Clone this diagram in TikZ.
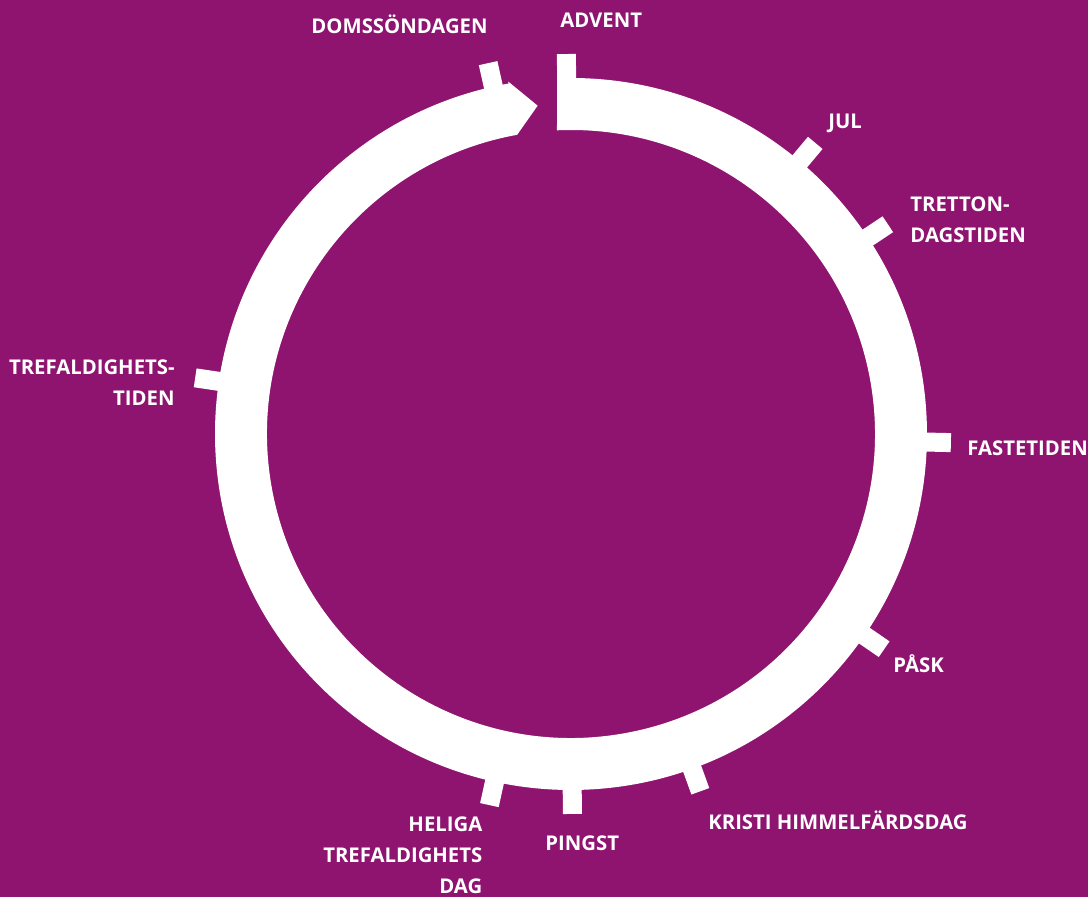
\documentclass[tikz,border=0pt]{standalone}
\usepackage{fontspec}
\setmainfont{Open Sans}
\definecolor{kyrkolila}{RGB}{142,20,112}
\tikzset{
  tick/.style={fill=white, rectangle, inner sep=0pt, minimum width=15pt, minimum height=9.5pt},
  season/.style={text=white, inner sep=0pt, font=\fontsize{10.15}{15.5}\selectfont\bfseries}
}
\begin{document}
\begin{tikzpicture}[x=0.5pt, y=0.5pt]
  % Background
  \fill[kyrkolila] (-571,-463) rectangle (517,434);
  \useasboundingbox (-571,-463) rectangle (517,434);

  % Ring with arrow head
  \fill[white] (92.25:356) arc[start angle=92.25, end angle=-259.9, radius=356]
    -- (100.1:358) -- (95.8:330) -- (100.2:304)
    arc[start angle=-259.8, end angle=92.64, radius=304] -- cycle;

  % Ticks
  \node[tick, rotate=90.7] (advent tick) at (90.7:365) {};
  \node[tick, rotate=50] (jul tick) at (50:365) {};
  \node[tick, rotate=33.5] (tretton tick) at (33.5:365) {};
  \node[tick, rotate=-1.3] (faste tick) at (-1.3:365) {};
  \node[tick, rotate=-34.5] (pask tick) at (-34.5:365) {};
  \node[tick, rotate=-70.1] (kristi tick) at (-70.1:365) {};
  \node[tick, rotate=-89.8] (pingst tick) at (-89.8:365) {};
  \node[tick, rotate=-102.4] (heliga tick) at (-102.4:365) {};
  \node[tick, rotate=171.5] (trefald tick) at (171.5:365) {};
  \node[tick, rotate=102.6] (doms tick) at (102.6:365) {};

  % Labels (multi-line ones sit on the base of their last line)
  \node[season, anchor=base west] (advent) at (-11,406) {ADVENT};
  \node[season, anchor=base west] (jul) at (257,305) {JUL};
  \node[season, anchor=base west, align=left] (tretton) at (339,191) {TRETTON-\\DAGSTIDEN};
  \node[season, anchor=base west] (faste) at (396,-22) {FASTETIDEN};
  \node[season, anchor=base west] (pask) at (322,-239) {PÅSK};
  \node[season, anchor=base west] (kristi) at (137,-395.5) {KRISTI HIMMELFÄRDSDAG};
  \node[season, anchor=base west] (pingst) at (-26,-417) {PINGST};
  \node[season, anchor=base east, align=right] (heliga) at (-88.3,-459.5) {HELIGA\\TREFALDIGHETS\\DAG};
  \node[season, anchor=base east, align=right] (trefald) at (-396,28) {TREFALDIGHETS-\\TIDEN};
  \node[season, anchor=base east] (doms) at (-83,400) {DOMSSÖNDAGEN};
\end{tikzpicture}
\end{document}
